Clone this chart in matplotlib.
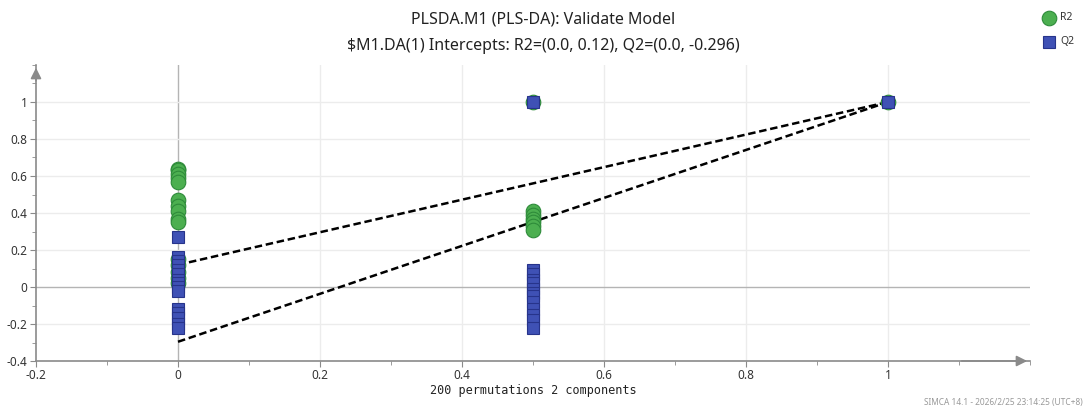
import matplotlib
matplotlib.use("Agg")
import matplotlib.pyplot as plt
from matplotlib.ticker import MultipleLocator

plt.rcParams["font.family"] = ["Noto Sans", "DejaVu Sans"]

# permutation results: x = correlation of permuted Y with original Y
r2_x = [0, 0, 0, 0, 0, 0, 0, 0, 0, 0, 0, 0, 0, 0, 0,
        0.5, 0.5, 0.5, 0.5, 0.5, 0.5, 0.5, 1.0]
r2_y = [0.64, 0.63, 0.61, 0.59, 0.57, 0.47, 0.44, 0.41, 0.37, 0.35, 0.15, 0.12, 0.08, 0.05, 0.02,
        0.41, 0.39, 0.37, 0.35, 0.33, 0.31, 1.0, 1.0]
q2_x = [0, 0, 0, 0, 0, 0, 0, 0, 0, 0, 0, 0, 0, 0, 0,
        0.5, 0.5, 0.5, 0.5, 0.5, 0.5, 0.5, 0.5, 0.5, 0.5, 0.5, 0.5, 0.5, 1.0]
q2_y = [0.27, 0.16, 0.14, 0.12, 0.09, 0.07, 0.04, 0.02, 0.0, -0.02, -0.12, -0.14, -0.17, -0.20, -0.22,
        0.09, 0.07, 0.04, 0.02, -0.01, -0.03, -0.05, -0.08, -0.12, -0.15, -0.18, -0.22, 1.0, 1.0]

# regression intercepts
r2_int = 0.12
q2_int = -0.296

xticks = [-0.2, 0, 0.2, 0.4, 0.6, 0.8, 1]
yticks = [-0.4, -0.2, 0, 0.2, 0.4, 0.6, 0.8, 1]

GREEN = "#4caf50"; GREEN_E = "#2e8b3a"
BLUE = "#3f51b5"; BLUE_E = "#27348b"
AX = "#8a8a8a"; GRID = "#ececec"; ZERO = "#b4b4b4"

fig = plt.figure(figsize=(10.87, 4.09), dpi=100)
ax = fig.add_axes([36 / 1087, 48 / 409, 994 / 1087, 296 / 409])
ax.set_xlim(-0.2, 1.2)
ax.set_ylim(-0.4, 1.2)

for v in xticks[1:]:
    ax.axvline(v, color=ZERO if v == 0 else GRID, lw=1.0, zorder=0)
for v in yticks[1:]:
    ax.axhline(v, color=ZERO if v == 0 else GRID, lw=1.0, zorder=0)

ax.plot([0, 1], [r2_int, 1], color="black", ls=(0, (3, 1.5)), lw=1.8, zorder=2)
ax.plot([0, 1], [q2_int, 1], color="black", ls=(0, (3, 1.5)), lw=1.8, zorder=2)

ax.plot(r2_x, r2_y, ls="none", marker="o", ms=10.5, mfc=GREEN, mec=GREEN_E, mew=0.8, zorder=3)
ax.plot(q2_x, q2_y, ls="none", marker="s", ms=8.5, mfc=BLUE, mec=BLUE_E, mew=0.8, zorder=4)

for sp in ("top", "right"):
    ax.spines[sp].set_visible(False)
for sp in ("left", "bottom"):
    ax.spines[sp].set_color(AX)
    ax.spines[sp].set_linewidth(1.2)

ax.annotate("", xy=(-0.2, 1.2), xytext=(-0.2, 1.1),
            arrowprops=dict(arrowstyle="-|>", color=AX, lw=1.2, mutation_scale=16),
            annotation_clip=False)
ax.annotate("", xy=(1.2, -0.4), xytext=(1.1, -0.4),
            arrowprops=dict(arrowstyle="-|>", color=AX, lw=1.2, mutation_scale=16),
            annotation_clip=False)

ax.set_xticks(xticks)
ax.set_xticklabels(["-0.2", "0", "0.2", "0.4", "0.6", "0.8", "1"])
ax.set_yticks(yticks)
ax.set_yticklabels(["-0.4", "-0.2", "0", "0.2", "0.4", "0.6", "0.8", "1"])
ax.xaxis.set_minor_locator(MultipleLocator(0.1))
ax.yaxis.set_minor_locator(MultipleLocator(0.1))
ax.tick_params(which="both", color=AX, labelsize=8.5, labelcolor="#333333", pad=2)
ax.tick_params(which="major", length=4)
ax.tick_params(which="minor", length=3)

ax.set_xlabel("200 permutations 2 components", family="DejaVu Sans Mono",
              fontsize=8.5, color="#222222", labelpad=1)

fig.text(0.5, 1 - 20 / 409, "PLSDA.M1 (PLS-DA): Validate Model",
         ha="center", va="center", fontsize=11.5, color="#222222")
fig.text(0.5, 1 - 46 / 409, "$M1.DA(1) Intercepts: R2=(0.0, 0.12), Q2=(0.0, -0.296)",
         ha="center", va="center", fontsize=11.5, color="#222222", parse_math=False)

# legend
fig.lines.append(plt.Line2D([1049 / 1087], [1 - 18 / 409], transform=fig.transFigure,
                            marker="o", ms=10.5, mfc=GREEN, mec=GREEN_E, mew=0.8))
fig.lines.append(plt.Line2D([1049 / 1087], [1 - 42 / 409], transform=fig.transFigure,
                            marker="s", ms=8.5, mfc=BLUE, mec=BLUE_E, mew=0.8))
fig.text(1060 / 1087, 1 - 18 / 409, "R2", va="center", fontsize=7.5, color="#333333")
fig.text(1060 / 1087, 1 - 42 / 409, "Q2", va="center", fontsize=7.5, color="#333333")

fig.text(1083 / 1087, 1 - 403 / 409, "SIMCA 14.1 - 2026/2/25 23:14:25 (UTC+8)",
         ha="right", va="center", fontsize=6, color="#999999")

fig.savefig("out.png", dpi=100)
